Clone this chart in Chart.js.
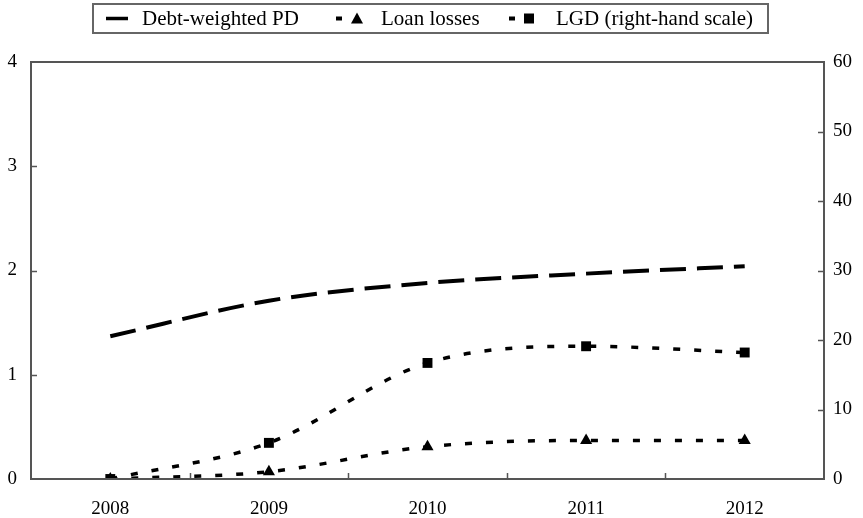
<!DOCTYPE html>
<html>
<head>
<meta charset="utf-8">
<script src="https://cdn.jsdelivr.net/npm/chart.js@4"></script>
<style>
  html, body { margin: 0; padding: 0; background: #fff; }
  #wrap { width: 863px; height: 518px; position: relative; }
</style>
</head>
<body>
<div id="wrap"><canvas id="chart"></canvas></div>
<script>
// data
const years = ['2008', '2009', '2010', '2011', '2012'];
const debtWeightedPD = [1.37, 1.71, 1.88, 1.97, 2.04];
const loanLosses = [0.0, 0.07, 0.31, 0.37, 0.37];
const lgd = [0.0, 5.2, 16.7, 19.1, 18.2];
const leftTicks = [0, 1, 2, 3, 4];
const rightTicks = [0, 10, 20, 30, 40, 50, 60];

const FONT = '"Liberation Serif", "Times New Roman", serif';
const FRAME = '#555';

// frame, inward tick marks and the boxed legend
const framePlugin = {
  id: 'frame',
  afterDraw(chart) {
    const { ctx, chartArea: a, scales } = chart;
    ctx.save();
    ctx.strokeStyle = FRAME;
    ctx.lineWidth = 2;
    ctx.strokeRect(a.left, a.top, a.right - a.left, a.bottom - a.top);
    ctx.lineWidth = 1.5;
    ctx.beginPath();
    leftTicks.slice(1, -1).forEach((v) => {
      const y = Math.round(scales.y.getPixelForValue(v)) + 0.5;
      ctx.moveTo(a.left, y); ctx.lineTo(a.left + 6, y);
    });
    rightTicks.slice(1, -1).forEach((v) => {
      const y = Math.round(scales.y1.getPixelForValue(v)) + 0.5;
      ctx.moveTo(a.right, y); ctx.lineTo(a.right - 6, y);
    });
    for (let i = 0; i < years.length - 1; i++) {
      const x = Math.round((scales.x.getPixelForValue(i) + scales.x.getPixelForValue(i + 1)) / 2) + 0.5;
      ctx.moveTo(x, a.bottom); ctx.lineTo(x, a.bottom - 6);
    }
    ctx.stroke();

    // legend
    ctx.strokeStyle = '#666';
    ctx.lineWidth = 2;
    ctx.strokeRect(93, 4, 675, 29);
    ctx.fillStyle = '#000';
    ctx.strokeStyle = '#000';
    ctx.lineWidth = 3.5;
    ctx.font = '21px ' + FONT;
    ctx.textBaseline = 'middle';
    const ly = 18.5;
    ctx.beginPath(); ctx.moveTo(106, ly); ctx.lineTo(128, ly); ctx.stroke();
    ctx.fillText('Debt-weighted PD', 142, ly + 1);
    ctx.fillRect(336, ly - 2, 6, 4);
    ctx.beginPath(); ctx.moveTo(351, ly + 5); ctx.lineTo(357, ly - 6); ctx.lineTo(363, ly + 5); ctx.closePath(); ctx.fill();
    ctx.fillText('Loan losses', 381, ly + 1);
    ctx.fillRect(509, ly - 2, 6, 4);
    ctx.fillRect(524, ly - 5, 10, 10);
    ctx.fillText('LGD (right-hand scale)', 556, ly + 1);
    ctx.restore();
  },
};

new Chart(document.getElementById('chart'), {
  type: 'line',
  data: {
    labels: years,
    datasets: [
      {
        label: 'Debt-weighted PD',
        data: debtWeightedPD,
        yAxisID: 'y',
        borderColor: '#000',
        borderWidth: 4,
        borderDash: [26, 11],
        borderCapStyle: 'butt',
        pointRadius: 0,
        cubicInterpolationMode: 'monotone',
      },
      {
        label: 'Loan losses',
        data: loanLosses,
        yAxisID: 'y',
        borderColor: '#000',
        borderWidth: 3.5,
        borderDash: [7, 14],
        pointStyle: 'triangle',
        pointRadius: 7,
        pointBackgroundColor: '#000',
        pointBorderColor: '#000',
        pointBorderWidth: 0,
        cubicInterpolationMode: 'monotone',
      },
      {
        label: 'LGD (right-hand scale)',
        data: lgd,
        yAxisID: 'y1',
        borderColor: '#000',
        borderWidth: 3.5,
        borderDash: [7, 14],
        pointStyle: 'rect',
        pointRadius: 7,
        pointBackgroundColor: '#000',
        pointBorderColor: '#000',
        pointBorderWidth: 0,
        cubicInterpolationMode: 'monotone',
      },
    ],
  },
  options: {
    responsive: true,
    maintainAspectRatio: false,
    animation: false,
    layout: { padding: { top: 62, left: 0, right: 0, bottom: 0 } },
    plugins: { legend: { display: false }, tooltip: { enabled: false } },
    scales: {
      x: {
        offset: true,
        grid: { display: false, drawTicks: false },
        border: { display: false },
        ticks: { color: '#000', font: { family: FONT, size: 19 }, padding: 19, maxRotation: 0 },
        afterFit(s) { s.height = 39; },
      },
      y: {
        position: 'left',
        min: 0,
        max: 4,
        afterBuildTicks(s) { s.ticks = leftTicks.map((v) => ({ value: v })); },
        grid: { display: false, drawTicks: false },
        border: { display: false },
        ticks: { color: '#000', font: { family: FONT, size: 19 }, padding: 14 },
        afterFit(s) { s.width = 31; },
      },
      y1: {
        position: 'right',
        min: 0,
        max: 60,
        afterBuildTicks(s) { s.ticks = rightTicks.map((v) => ({ value: v })); },
        grid: { display: false, drawTicks: false },
        border: { display: false },
        ticks: { color: '#000', font: { family: FONT, size: 19 }, padding: 9 },
        afterFit(s) { s.width = 39; },
      },
    },
  },
  plugins: [framePlugin],
});
</script>
</body>
</html>
